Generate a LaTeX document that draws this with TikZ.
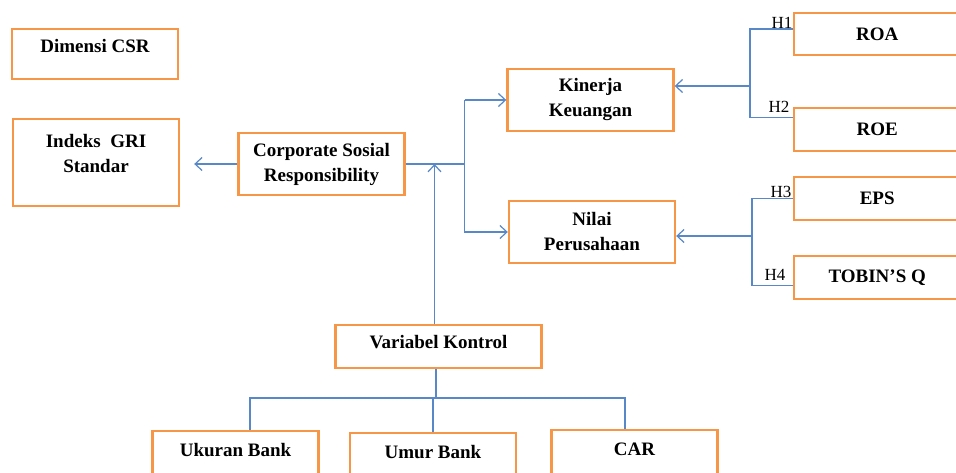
\documentclass[tikz,border=0pt]{standalone}
\usepackage{fontspec}
\setmainfont{Liberation Serif}
\usetikzlibrary{arrows.meta}
\definecolor{boxorange}{RGB}{247,150,70}
\definecolor{linkblue}{RGB}{88,136,200}

\begin{document}
\begin{tikzpicture}[x=1pt,y=-1pt]
      \tikzset{var box/.style={draw=boxorange,
          line width=2.4pt,
          font=\fontsize{19}{25}\selectfont\bfseries,
          align=center,
          minimum width=166pt,
          minimum height=#1,
          inner sep=2pt},
        var box/.default=61.6pt,
        link/.style={draw=linkblue, line width=1.3pt},
        hyp/.style={font=\fontsize{17}{17}\selectfont, inner sep=0.5pt}
      }
      \tikzset{>={Straight Barb[length=7pt,width=13pt,line width=1.2pt]}}
      \useasboundingbox (0,0) rectangle (956,473);
      \clip (0,0) rectangle (956,473);

      \node [var box=49.6pt, text height=13pt, text depth=16.4pt] (dim) at (95,54) {Dimensi CSR};
      \node [var box=86.6pt, text depth=18pt] (gri) at (96,162.5) {Indeks~~GRI\\Standar};
      \node [var box] (csr) at (321.5,164) {Corporate Sosial\\Responsibility};
      \node [var box] (kin) at (590.5,100) {Kinerja\\Keuangan};
      \node [var box] (nil) at (592,232) {Nilai\\Perusahaan};

      \node [var box=41.6pt] (roa) at (877.2,34) {ROA};
      \node [var box=42.6pt] (roe) at (877.2,129.5) {ROE};
      \node [var box=42.6pt] (eps) at (877.2,198.5) {EPS};
      \node [var box=42.6pt] (tob) at (877.2,277.5) {TOBIN’S Q};

      \node [var box=42.6pt, text height=13pt, text depth=8.4pt, minimum width=206pt] (vk) at (438.5,346.5) {Variabel Kontrol};
      \node [var box, text height=13pt, text depth=23.4pt] (uk) at (235.5,461.5) {Ukuran Bank};
      \node [var box, text height=13pt, text depth=23.4pt] (um) at (433,463.5) {Umur Bank};
      \node [var box, text height=13pt, text depth=23.4pt] (car) at (634.5,460.5) {CAR};

      % CSR and its indicator
      \draw [link,->] (csr.west) -- ([xshift=14pt]gri.east |- csr.west);

      % CSR to the two outcomes
      \draw [link] (csr.east) -- ++(59,0) coordinate (split);
      \draw [link,->] (split |- kin.west) -- (kin.west);
      \draw [link,->] (split |- kin.west) -- (split |- nil.west) -- (nil.west);

      % control variables
      \draw [link,->] ([xshift=-4pt]vk.north) -- ([xshift=-4pt]vk.north |- csr.east);
      \draw [link] ([xshift=-2.5pt]vk.south) -- ++(0,29) coordinate (fork);
      \draw [link] ([xshift=14.5pt]uk.north) |- (fork) -| ([xshift=-9.5pt]car.north);
      \draw [link] (fork -| um.north) -- (um.north);

      % proxies of the outcomes
      \coordinate (hub1) at (750,86);
      \draw [link] ([yshift=5pt]roa.west) -| (hub1) |- ([yshift=12pt]roe.west);
      \draw [link,->] (hub1) -- (hub1 -| kin.east);
      \coordinate (hub2) at (752,236);
      \draw [link] (eps.west) -| (hub2) |- ([yshift=-8pt]tob.west);
      \draw [link,->] (hub2) -- (hub2 -| nil.east);

      \node [hyp, anchor=south east] (h1) at ([yshift=5pt]roa.west) {H1};
      \node [hyp, anchor=south east] (h2) at ([xshift=-3pt,yshift=16pt]roe.west) {H2};
      \node [hyp, anchor=south east] (h3) at ([xshift=-1pt]eps.west) {H3};
      \node [hyp, anchor=south east] (h4) at ([xshift=-7pt,yshift=-4pt]tob.west) {H4};
\end{tikzpicture}
\end{document}
